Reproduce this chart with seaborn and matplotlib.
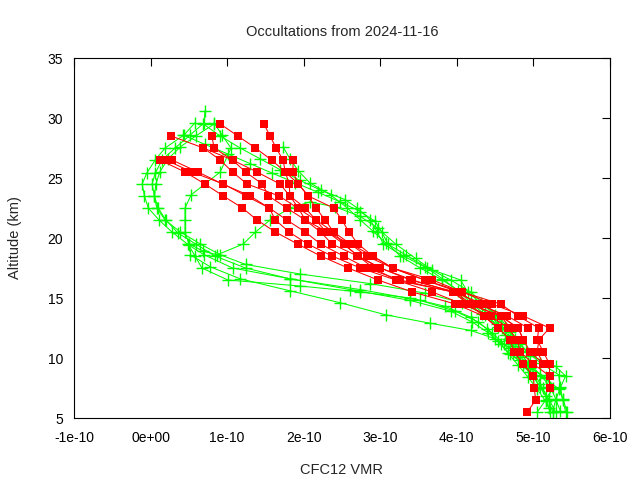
import numpy as np
import pandas as pd
import matplotlib
matplotlib.use("Agg")
import matplotlib.pyplot as plt
import seaborn as sns
from matplotlib.ticker import FuncFormatter

# ---- data (VMR in units of 1e-10, altitude in km) ----
red_tops = [26.5, 26.5, 26.5, 28.5, 28.5, 29.5, 29.5, 26.5, 27.5]
red_vmr = [
    [0.12,0.45,0.71,0.95,1.20,1.39,1.63,1.92,2.22,2.58,2.97,3.42,3.98,4.35,4.54,4.70,4.74,4.87,5.00,5.01,5.03,4.92],
    [0.20,0.54,0.95,1.25,1.55,1.63,1.81,2.05,2.37,2.74,3.20,3.68,4.07,4.44,4.67,4.79,4.83,5.00,5.21,5.21],
    [0.28,0.62,0.94,1.30,1.55,1.78,2.02,2.22,2.52,2.82,3.26,3.95,4.15,4.57,4.80,4.87,4.96,5.13],
    [0.27,0.69,0.91,1.07,1.26,1.68,1.92,2.16,2.29,2.61,2.90,3.16,3.58,4.02,4.27,4.66,4.93],
    [0.80,0.83,1.07,1.39,1.69,1.82,2.02,2.16,2.39,2.52,2.71,3.00,3.39,3.98,4.18,4.57,4.80,4.87],
    [0.91,1.14,1.37,1.58,1.76,1.93,2.06,2.16,2.28,2.39,2.61,2.82,3.16,3.68,4.07,4.57,4.80,5.07,5.05,5.13,5.21,5.21],
    [1.48,1.56,1.64,1.73,1.76,1.81,1.82,1.93,2.02,2.31,2.52,2.71,2.91,3.20,3.95,4.15,4.35,4.54],
    [1.86,1.86,1.93,2.06,2.39,2.50,2.59,2.71,2.90,3.16,3.58,4.07,4.46,4.87,5.21,5.07,5.05,5.13],
    [0.69,1.07,1.24,1.46,1.54,1.78,2.02,2.22,2.37,2.70,3.00,3.42,3.95,4.35,4.57,4.70],
]

green_alt = [
    [29.6,28.6,27.5,26.5,25.4,24.5,23.5,22.5,21.5,20.5,19.4,18.6,17.5,16.6,15.7,14.8,13.9,13.0,12.1,11.2,10.3,9.4,8.5,7.6,6.6,5.5],
    [30.6,29.6,28.6,27.5,26.5,25.4,24.5,23.5,22.5,21.5,20.5,19.5,18.6,17.8,17.0,16.2,15.4,14.6,13.7,12.8,11.9,11.0,10.1,9.2,8.3,7.4,6.5,5.5],
    [29.5,28.5,27.6,26.6,25.5,24.5,23.5,22.5,21.5,20.4,19.5,18.5,17.5,16.6,15.7,14.8,13.9,13.0,12.1,11.2,10.3,9.3,8.4,7.5,6.5,5.5],
    [29.6,28.6,27.5,25.5,23.6,22.5,21.5,20.5,19.5,18.9,18.6,19.5,20.5,21.5,22.5,23.0,22.6,21.8,20.8,19.5,18.3,17.3,16.5,15.5,14.4,13.3,12.2,11.2,10.2,9.3,8.5,7.5,6.5,5.5],
    [28.6,27.8,27.0,26.2,25.4,24.6,23.8,23.0,22.2,21.4,20.5,19.5,18.5,17.5,16.5,15.5,14.5,13.5,12.5,11.5,10.5,9.5,8.5,7.5,6.5,5.5],
    [29.5,28.5,27.5,26.6,25.7,24.8,24.0,23.2,22.5,21.5,20.5,19.5,18.5,17.5,16.5,15.5,14.6,13.6,12.6,11.6,10.6,9.6,8.6,7.6,6.6,5.5],
    [27.6,26.6,25.6,24.6,23.6,22.5,21.5,20.6,19.6,18.6,17.6,16.6,15.6,14.6,13.6,12.6,11.6,10.6,9.6,8.6,7.6,6.6,5.6],
    [19.5,18.5,17.5,16.5,16.0,15.5,15.0,14.3,13.4,12.4,11.4,10.4,9.4,8.4,7.4,6.4,5.5],
    [18.6,17.6,16.6,15.6,14.6,13.6,12.9,12.3,11.6,10.8,9.8,8.8,7.8,6.8,5.8],
]
green_vmr = [
    [0.58,0.44,0.19,0.06,-0.05,-0.11,-0.08,-0.03,0.11,0.28,0.50,0.70,1.07,1.82,2.74,3.52,3.98,4.28,4.46,4.61,4.73,4.86,4.99,5.09,5.20,5.29],
    [0.71,0.70,0.52,0.32,0.15,0.06,0.02,0.05,0.08,0.19,0.39,0.65,0.91,1.24,1.95,2.87,3.59,4.07,4.33,4.53,4.63,4.73,4.83,4.96,5.16,5.33,5.39,5.44],
    [0.83,0.59,0.39,0.23,0.12,0.07,0.05,0.10,0.20,0.36,0.59,0.84,1.24,1.82,2.61,3.39,3.92,4.20,4.41,4.57,4.70,4.93,5.16,5.25,5.16,5.05],
    [0.83,0.93,1.05,0.91,0.53,0.45,0.45,0.45,0.50,0.69,0.87,1.21,1.37,1.56,1.82,2.08,2.41,2.74,2.97,3.20,3.46,3.68,3.92,4.18,4.37,4.57,4.70,4.83,4.96,5.29,5.42,5.35,5.29,5.25],
    [0.42,0.71,1.01,1.30,1.59,1.89,2.19,2.48,2.74,2.93,3.02,3.10,3.26,3.52,3.81,4.05,4.24,4.44,4.59,4.72,4.83,4.93,5.03,5.12,5.20,5.25],
    [0.69,0.91,1.17,1.43,1.69,1.95,2.22,2.54,2.70,2.87,2.96,3.04,3.30,3.61,4.05,4.14,4.31,4.50,4.63,4.76,4.90,5.09,5.33,5.35,5.38,5.42],
    [1.73,1.82,1.93,2.08,2.35,2.57,2.74,2.90,3.07,3.33,3.59,3.81,4.02,4.18,4.37,4.54,4.67,4.80,4.93,5.09,5.22,5.29,5.35],
    [0.49,0.58,0.67,1.01,1.95,2.74,3.39,3.85,4.18,4.40,4.54,4.67,4.80,4.93,5.05,5.16,5.22],
    [0.52,0.78,1.17,1.82,2.48,3.07,3.65,4.18,4.50,4.70,4.83,4.96,5.07,5.16,5.20],
]

x_ticks = [-1e-10, 0, 1e-10, 2e-10, 3e-10, 4e-10, 5e-10, 6e-10]
y_ticks = [5, 10, 15, 20, 25, 30, 35]
title = "Occultations from 2024-11-16"
xlabel = "CFC12 VMR"
ylabel = "Altitude (km)"

# ---- build tables ----
rows = []
for i, (top, vals) in enumerate(zip(red_tops, red_vmr)):
    for j, v in enumerate(vals):
        rows.append({"profile": i, "order": j, "alt": top - j, "vmr": v * 1e-10})
red_df = pd.DataFrame(rows)

rows = []
for i, (alts, vals) in enumerate(zip(green_alt, green_vmr)):
    for j, (a, v) in enumerate(zip(alts, vals)):
        rows.append({"profile": i, "order": j, "alt": a, "vmr": v * 1e-10})
green_df = pd.DataFrame(rows)

sns.set_style("white")
plt.rcParams["font.family"] = ["Liberation Sans", "DejaVu Sans"]

fig = plt.figure(figsize=(6.4, 4.8), dpi=100)
ax = fig.add_axes([74/640, 1-418/480, (610-74)/640, (418-58)/480])

sns.lineplot(data=green_df, x="vmr", y="alt", units="profile", estimator=None,
             sort=False, color="#00ff00", marker="+", markersize=8,
             markeredgewidth=1.0, markeredgecolor="#00ff00",
             linewidth=0.75, ax=ax, legend=False)
sns.lineplot(data=red_df, x="vmr", y="alt", units="profile", estimator=None,
             sort=False, color="#ff0000", marker="s", markersize=6.3,
             markeredgewidth=0, markeredgecolor="#ff0000",
             markerfacecolor="#ff0000", linewidth=0.75, ax=ax, legend=False)

ax.set_xlim(-1e-10, 6e-10)
ax.set_ylim(5, 35)
ax.set_xticks(x_ticks)
ax.set_yticks(y_ticks)
ax.xaxis.set_major_formatter(FuncFormatter(lambda v, p: "%.0e" % v))
ax.tick_params(direction="in", top=True, right=True, length=6, width=0.8,
               labelsize=10, colors="black")
ax.tick_params(axis="x", pad=9)
ax.tick_params(axis="y", pad=8)
for s in ax.spines.values():
    s.set_color("black")
    s.set_linewidth(0.8)
ax.set_xlabel(xlabel, fontsize=10.5, labelpad=13)
ax.set_ylabel(ylabel, fontsize=10.5, labelpad=18)
ax.set_title(title, fontsize=10.5, pad=16)

fig.savefig("out.png", dpi=100)
